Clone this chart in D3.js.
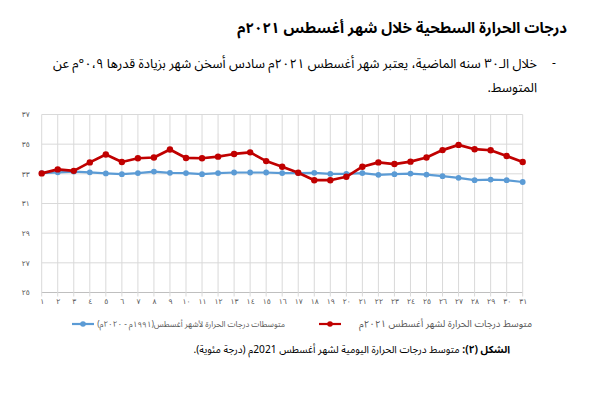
<!DOCTYPE html>
<html>
<head>
<meta charset="utf-8">
<script src="https://cdn.jsdelivr.net/npm/d3@7"></script>
<style>
	body { margin: 0; background: #fff; }
	svg text { font-family: "Noto Sans Arabic", "DejaVu Sans", sans-serif; }
</style>
</head>
<body>
<svg id="chart" width="600" height="405"></svg>
<script>
// day labels (Arabic-Indic digits)
var days = ['١','٢','٣','٤','٥','٦','٧','٨','٩','١٠','١١','١٢','١٣','١٤','١٥','١٦',
	'١٧','١٨','١٩','٢٠','٢١','٢٢','٢٣','٢٤','٢٥','٢٦','٢٧','٢٨','٢٩','٣٠','٣١'];

// August 2021 daily mean
var aug2021 = [33.03, 33.3, 33.2, 33.77, 34.3, 33.8, 34.05, 34.1, 34.64, 34.07, 34.05,
	34.16, 34.34, 34.45, 33.86, 33.48, 33.07, 32.57, 32.57, 32.8, 33.48, 33.77,
	33.66, 33.82, 34.1, 34.6, 34.95, 34.66, 34.59, 34.2, 33.8];

// August averages 1991-2020
var augNormal = [33.05, 33.1, 33.15, 33.1, 33.03, 32.98, 33.05, 33.15, 33.07, 33.05, 32.98,
	33.05, 33.09, 33.09, 33.09, 33.05, 33.05, 33.07, 33.0, 33.0, 33.05, 32.93,
	32.98, 33.02, 32.95, 32.84, 32.73, 32.57, 32.61, 32.57, 32.45];

var yTicks = [25, 27, 29, 31, 33, 35, 37];
var yTickLabels = ['٢٥', '٢٧', '٢٩', '٣١', '٣٣', '٣٥', '٣٧'];

var seriesNames = ['متوسط درجات الحرارة لشهر أغسطس ٢٠٢١م', 'متوسطات درجات الحرارة لأشهر أغسطس(١٩٩١م - ٢٠٢٠م)'];

var svg = d3.select('#chart');

// scale a text's font so it takes the width seen on the picture, returns the size
function fit(sel, target) {
	var fs = +sel.attr('font-size');
	var w = sel.node().getComputedTextLength();
	if (w > 0) fs = fs * target / w;
	sel.attr('font-size', fs);
	return fs;
}

// ---- heading texts
var title = svg.append('text')
	.attr('x', 567).attr('y', 33)
	.attr('direction', 'rtl')
	.attr('font-size', 15)
	.attr('font-weight', 'bold')
	.attr('fill', '#000')
	.text('درجات الحرارة السطحية خلال شهر أغسطس ٢٠٢١م');
fit(title, 330);

svg.append('text')
	.attr('x', 552).attr('y', 67)
	.attr('font-size', 12)
	.attr('fill', '#000')
	.text('-');

var l1 = svg.append('text')
	.attr('x', 537).attr('y', 68)
	.attr('direction', 'rtl')
	.attr('font-size', 13)
	.attr('fill', '#000')
	.text('خلال الـ٣٠ سنه الماضية، يعتبر شهر أغسطس ٢٠٢١م سادس أسخن شهر بزيادة قدرها ٠،٩°م عن');
var bodySize = fit(l1, 485);

svg.append('text')
	.attr('x', 537).attr('y', 92)
	.attr('direction', 'rtl')
	.attr('font-size', bodySize)
	.attr('fill', '#000')
	.text('المتوسط.');

// ---- chart
var xscale = d3.scalePoint()
	.domain(days)
	.range([41.7, 522.7]);

var yscale = d3.scaleLinear()
	.domain([25, 37])
	.range([292.5, 114.5]);

// gridlines
svg.append('g')
	.selectAll('line')
	.data(yTicks)
	.join('line')
	.attr('x1', 41.7).attr('x2', 522.7)
	.attr('y1', d => yscale(d)).attr('y2', d => yscale(d))
	.attr('stroke', d => d == 25 ? '#bfbfbf' : '#d9d9d9')
	.attr('stroke-width', 1);

svg.append('g')
	.selectAll('line')
	.data(days)
	.join('line')
	.attr('x1', d => xscale(d)).attr('x2', d => xscale(d))
	.attr('y1', yscale(37)).attr('y2', yscale(25) + 4)
	.attr('stroke', '#d9d9d9')
	.attr('stroke-width', 1);

var xaxis = d3.axisBottom(xscale).tickSize(0).tickPadding(6);
var gx = svg.append('g')
	.attr('transform', 'translate(0,' + yscale(25) + ')')
	.call(xaxis);
gx.select('.domain').remove();
gx.selectAll('text').attr('font-size', 7.5).attr('fill', '#595959')
	.style('font-family', '"DejaVu Sans", sans-serif');

var yaxis = d3.axisLeft(yscale)
	.tickValues(yTicks)
	.tickFormat((d, i) => yTickLabels[i])
	.tickSize(0).tickPadding(12);
var gy = svg.append('g')
	.attr('transform', 'translate(41.7,0)')
	.call(yaxis);
gy.select('.domain').remove();
gy.selectAll('text').attr('font-size', 7.5).attr('fill', '#595959')
	.style('font-family', '"DejaVu Sans", sans-serif');

var line = d3.line()
	.x((d, i) => xscale(days[i]))
	.y(d => yscale(d));

// normal first, 2021 on top
var series = [
	{vals: augNormal, color: '#5b9bd5', width: 2.2, r: 2.9},
	{vals: aug2021, color: '#c00000', width: 2.7, r: 3.2}
];

series.forEach(function(s) {
	svg.append('path')
		.datum(s.vals)
		.attr('fill', 'none')
		.attr('stroke', s.color)
		.attr('stroke-width', s.width)
		.attr('stroke-linejoin', 'round')
		.attr('d', line);

	svg.append('g')
		.selectAll('circle')
		.data(s.vals)
		.join('circle')
		.attr('cx', (d, i) => xscale(days[i]))
		.attr('cy', d => yscale(d))
		.attr('r', s.r)
		.attr('fill', s.color);
});

// ---- legend
var legend = [
	{name: seriesNames[1], color: '#5b9bd5', x: 72, tx: 285},
	{name: seriesNames[0], color: '#c00000', x: 319, tx: 532}
];

var legendSize = 8;
legend.forEach(function(d, i) {
	svg.append('line')
		.attr('x1', d.x).attr('x2', d.x + 22)
		.attr('y1', 324).attr('y2', 324)
		.attr('stroke', d.color).attr('stroke-width', 2.2);
	svg.append('circle')
		.attr('cx', d.x + 11).attr('cy', 324).attr('r', 2.8)
		.attr('fill', d.color);
	var t = svg.append('text')
		.attr('x', d.tx).attr('y', 327)
		.attr('direction', 'rtl')
		.attr('font-size', legendSize * (i == 1 ? 1.2 : 1))
		.attr('fill', '#595959')
		.text(d.name);
	if (i == 0) legendSize = fit(t, 188);
});

// ---- caption, bold lead then plain text
var capSize = 10.5;
var cap = svg.append('text')
	.attr('x', 510).attr('y', 353)
	.attr('direction', 'rtl')
	.attr('font-size', capSize)
	.attr('fill', '#000');
var c1 = cap.append('tspan').attr('font-weight', 'bold').text('الشكل (٢): ');
var c2 = cap.append('tspan').text('متوسط درجات الحرارة اليومية لشهر أغسطس 2021م (درجة مئوية).');
var capW = c1.node().getComputedTextLength() + c2.node().getComputedTextLength();
if (capW > 0) cap.attr('font-size', capSize * 317 / capW);
</script>
</body>
</html>
